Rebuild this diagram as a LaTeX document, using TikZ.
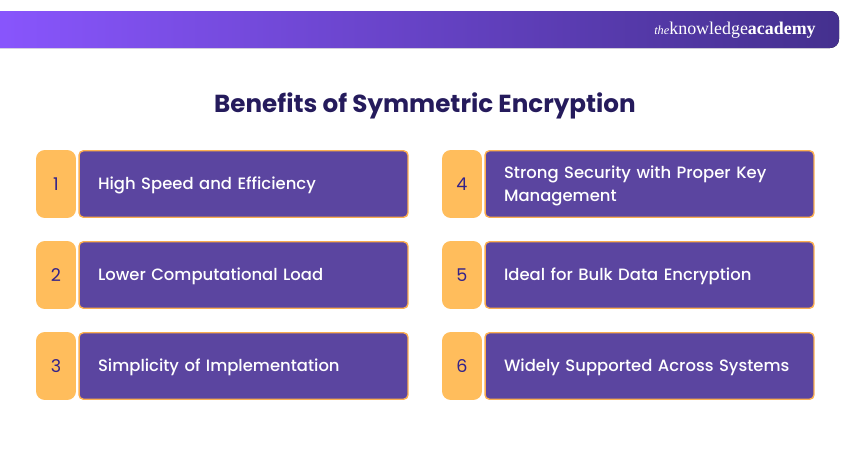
\documentclass[tikz,border=0pt]{standalone}
\usepackage{fontspec}
\setmainfont{Poppins}
\newfontfamily\logofont{Liberation Serif}
\newfontfamily\itemfont{Poppins Medium}
\usepackage{tikz}
\usetikzlibrary{positioning}
\definecolor{numorange}{HTML}{FFBD5C}
\definecolor{edgeorange}{HTML}{FBAE50}
\definecolor{boxpurple}{HTML}{5B45A0}
\definecolor{titleink}{HTML}{251B5C}
\definecolor{numink}{HTML}{33228A}
\definecolor{barleft}{HTML}{8A56FF}
\definecolor{barright}{HTML}{44308E}
\begin{document}
\begin{tikzpicture}[x=0.02cm, y=-0.02cm,
  numbox/.style={fill=numorange, rounded corners=5pt, minimum width=0.8cm, minimum height=1.36cm, inner sep=0pt, text=numink, font=\fontsize{10}{12}\selectfont},
  textbox/.style={draw=edgeorange, line width=0.8pt, fill=boxpurple, rounded corners=2.5pt, minimum width=6.58cm, minimum height=1.33cm, inner sep=0pt, text=white, align=left, text width=5.82cm, font=\itemfont\fontsize{9.35}{13}\selectfont, execute at end node={\vspace*{-0.06cm}}}]
\useasboundingbox (0,0) rectangle (850,450);
\fill[left color=barleft, right color=barright, rounded corners=5pt] (-20,11)--(839,11)--(839,48)--(-20,48)--cycle;
\node[text=white, anchor=east, inner sep=0pt] (logo) at (816,30) {\logofont\fontsize{10.2}{12}\selectfont{\itshape\fontsize{7}{12}\selectfont the}knowledge\textbf{academy}};
\node[text=titleink, inner sep=0pt, font=\fontsize{14.03}{17}\bfseries\selectfont] (title) at (425,106) {Benefits of Symmetric Encryption};
\node[numbox] (num1) at (56,184) {1};
\node[textbox, right=0.04cm of num1] (text1) {High Speed and Efficiency};
\node[numbox] (num2) at (56,275) {2};
\node[textbox, right=0.04cm of num2] (text2) {Lower Computational Load};
\node[numbox] (num3) at (56,366) {3};
\node[textbox, right=0.04cm of num3] (text3) {Simplicity of Implementation};
\node[numbox] (num4) at (462,184) {4};
\node[textbox, right=0.04cm of num4] (text4) {Strong Security with Proper Key Management};
\node[numbox] (num5) at (462,275) {5};
\node[textbox, right=0.04cm of num5] (text5) {Ideal for Bulk Data Encryption};
\node[numbox] (num6) at (462,366) {6};
\node[textbox, right=0.04cm of num6] (text6) {Widely Supported Across Systems};
\end{tikzpicture}
\end{document}
